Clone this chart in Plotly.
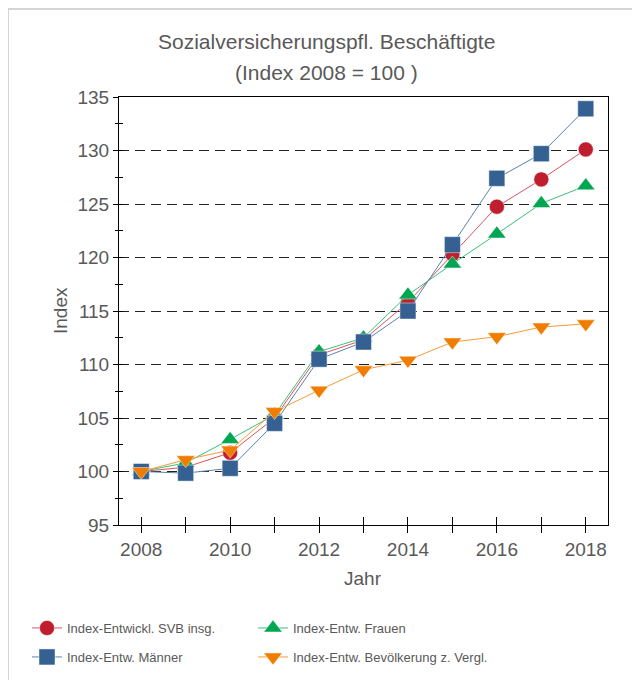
import plotly.graph_objects as go

years = [2008, 2009, 2010, 2011, 2012, 2013, 2014, 2015, 2016, 2017, 2018]
svb = [100, 100.4, 101.75, 105.0, 110.9, 112.3, 115.8, 120.3, 124.75, 127.3, 130.1]
frauen = [100, 100.8, 103.0, 105.3, 111.2, 112.5, 116.5, 119.4, 122.2, 125.05, 126.7]
maenner = [100, 99.85, 100.3, 104.5, 110.5, 112.1, 115.0, 121.2, 127.4, 129.7, 133.9]
bevoelk = [100, 101.1, 102.0, 105.6, 107.6, 109.5, 110.4, 112.1, 112.6, 113.5, 113.8]

names = ["Index-Entwickl. SVB insg.", "Index-Entw. Frauen",
         "Index-Entw. Männer", "Index-Entw. Bevölkerung z. Vergl."]
title1 = "Sozialversicherungspfl. Beschäftigte"
title2 = "(Index 2008 = 100 )"

W, H = 640, 680
OFF = 8  # page body margin
L, R, T, B = 111, 40, 89, 163
PW, PH = W - L - R, H - T - B

def px(x):
    return (x - OFF - L) / PW

def py(y):
    return (H - B - (y - OFF)) / PH

grey = "#595959"
font = "Liberation Sans, Arial, sans-serif"

series = [
    (svb, names[0], "#be1e2d", "#d9545f", "circle", 15, "legend"),
    (frauen, names[1], "#00a651", "#3cc07a", "triangle-up", 16, "legend2"),
    (maenner, names[2], "#346192", "#5a82ad", "square", 16, "legend3"),
    (bevoelk, names[3], "#f07d00", "#f59a3a", "triangle-down", 16, "legend4"),
]

fig = go.Figure()
for vals, name, mc, lc, sym, sz, lg in series:
    fig.add_trace(go.Scatter(
        x=years, y=vals, name=name, mode="lines+markers",
        line=dict(color=lc, width=1),
        marker=dict(color=mc, symbol=sym, size=sz,
                    line=dict(color="rgba(255,255,255,0.45)", width=1)),
        legend=lg, cliponaxis=False,
    ))

# overlay axes for the inner half of the crossing ticks
fig.add_trace(go.Scatter(x=[], y=[], xaxis="x2", yaxis="y2", showlegend=False))

xr = [2007.5, 2018.5]
yr = [95, 135]

fig.update_layout(
    width=W, height=H,
    margin=dict(l=L, r=R, t=T, b=B),
    paper_bgcolor="white", plot_bgcolor="white",
    font=dict(family=font, color=grey, size=18),
    xaxis=dict(range=xr, tickmode="linear", tick0=2008, dtick=2,
               ticks="outside", ticklen=7, tickcolor="black", tickwidth=1,
               minor=dict(dtick=1, ticks="outside", ticklen=7, tickcolor="black"),
               showline=True, linecolor="black", linewidth=1, mirror=True,
               showgrid=False, zeroline=False,
               tickfont=dict(size=19, color=grey)),
    yaxis=dict(range=yr, tickmode="linear", tick0=95, dtick=5,
               ticks="outside", ticklen=5, tickcolor="black", tickwidth=1,
               minor=dict(dtick=2.5, ticks="outside", ticklen=3, tickcolor="black",
                          showgrid=False),
               showline=True, linecolor="black", linewidth=1, mirror=True,
               showgrid=True, gridcolor="#222222", gridwidth=1, griddash="10px,6px",
               zeroline=False,
               tickfont=dict(size=19, color=grey)),
    xaxis2=dict(range=xr, overlaying="x", anchor="y2", tickmode="linear", tick0=2008,
                dtick=1, ticks="inside", ticklen=8, tickcolor="black",
                showticklabels=False, showgrid=False, zeroline=False, showline=False),
    yaxis2=dict(range=yr, overlaying="y", anchor="x2", side="left", tickmode="linear",
                tick0=95, dtick=2.5, ticks="inside", ticklen=4, tickcolor="black",
                showticklabels=False, showgrid=False, zeroline=False, showline=False),
    showlegend=True,
)

leg_common = dict(orientation="h", xanchor="left", yanchor="middle",
                  bgcolor="rgba(0,0,0,0)", font=dict(size=13, color=grey, family=font))
col1, col2 = px(27), px(253)
row1, row2 = py(628), py(657)
fig.update_layout(
    legend=dict(x=col1, y=row1, **leg_common),
    legend2=dict(x=col2, y=row1, **leg_common),
    legend3=dict(x=col1, y=row2, **leg_common),
    legend4=dict(x=col2, y=row2, **leg_common),
)

fig.add_annotation(text=title1, xref="paper", yref="paper", x=px(326), y=py(42),
                   showarrow=False, font=dict(size=21, color=grey), yanchor="middle")
fig.add_annotation(text=title2, xref="paper", yref="paper", x=px(326), y=py(72),
                   showarrow=False, font=dict(size=21, color=grey), yanchor="middle")
fig.add_annotation(text="Jahr", xref="paper", yref="paper", x=px(363), y=py(578),
                   showarrow=False, font=dict(size=19, color=grey), yanchor="middle")
fig.add_annotation(text="Index", xref="paper", yref="paper", x=px(60), y=py(311),
                   showarrow=False, font=dict(size=19, color=grey), textangle=-90,
                   xanchor="center", yanchor="middle")

# light outer frame (left and top edges visible)
fig.add_shape(type="line", xref="paper", yref="paper", x0=px(8), x1=px(8),
              y0=py(9), y1=py(H + 20), line=dict(color="#d4d4d4", width=2))
fig.add_shape(type="line", xref="paper", yref="paper", x0=px(8), x1=px(W + 20),
              y0=py(9), y1=py(9), line=dict(color="#d4d4d4", width=2))

fig.write_html("out.html")
